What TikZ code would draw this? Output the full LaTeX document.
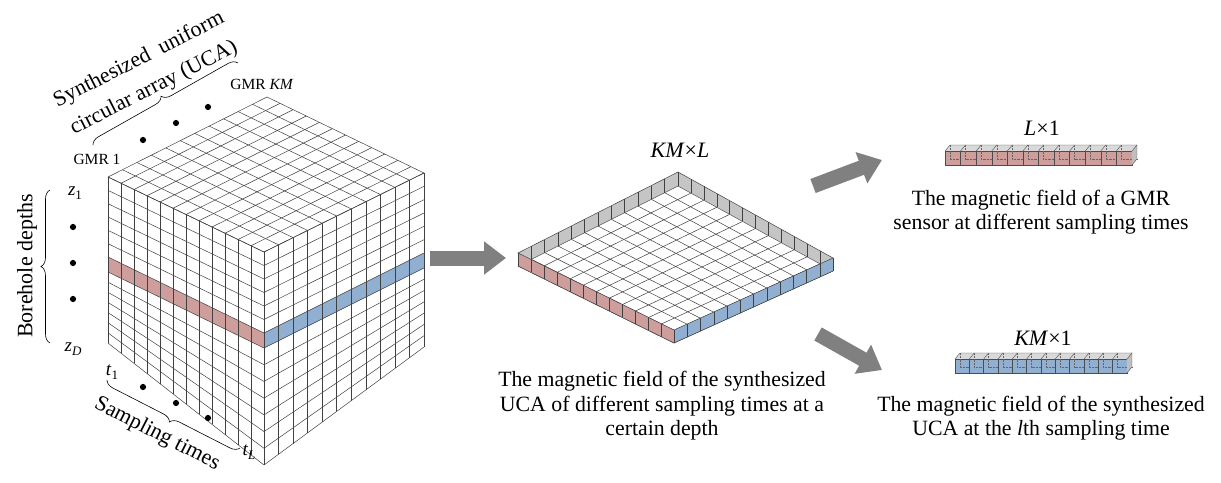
\documentclass[tikz,border=0pt]{standalone}
\usepackage{fontspec}
\setmainfont{LiberationSerif}[Extension=.ttf,UprightFont=*-Regular,ItalicFont=*-Italic,BoldFont=*-Bold,BoldItalicFont=*-BoldItalic]
\usetikzlibrary{calc,arrows.meta,decorations.pathreplacing}
\definecolor{rband}{RGB}{206,158,156}
\definecolor{bband}{RGB}{145,175,208}
\definecolor{garrow}{RGB}{128,128,128}
\newcommand\sbs[1]{\raisebox{-0.4ex}{\fontsize{13}{13}\selectfont #1}}
\begin{document}
\begin{tikzpicture}[x=1pt,y=-1pt,
  gl/.style={draw=black!75,line width=0.5pt},
  captxt/.style={font=\fontsize{21.8}{24.5}\selectfont,align=center},
  lab/.style={font=\fontsize{15.5}{18}\selectfont},
  side/.style={font=\fontsize{22}{26}\selectfont,align=center},
  dim/.style={font=\fontsize{22}{26}\selectfont},
  brc/.style={draw,line width=0.6pt,decoration={brace,amplitude=9pt},decorate},
  dot/.style={circle,fill,inner sep=2.2pt},
  bigarrow/.style={draw=garrow,line width=15pt,-{Triangle[length=22pt,width=32pt]}}]
\useasboundingbox (0,0) rectangle (1221,482);
% ---------- cube ----------
\coordinate (cL) at (108,177); \coordinate (cF) at (264,252);
\coordinate (cR) at (424,173); \coordinate (cB) at (267,97);
\coordinate (cLb) at (108,343); \coordinate (cFb) at (264,465);
\coordinate (cRb) at (424,347);
\coordinate (rL1) at (108,257); \coordinate (rF1) at (264,333);
\coordinate (rL2) at (108,272); \coordinate (rF2) at (264,348);
\coordinate (bR1) at (424,253); \coordinate (bR2) at (424,268);
\fill[white] (cL)--(cB)--(cR)--(cRb)--(cFb)--(cLb)--cycle;
\fill[rband] (rL1)--(rF1)--(rF2)--(rL2)--cycle;
\fill[bband] (rF1)--(bR1)--(bR2)--(rF2)--cycle;
\foreach \i in {0,...,12}{\draw[gl] ($(cL)!\i/12!(cF)$)--($(cLb)!\i/12!(cFb)$);}
\foreach \j in {0,...,6}{\draw[gl] ($(cL)!\j/6!(rL1)$)--($(cF)!\j/6!(rF1)$);}
\foreach \j in {0,...,7}{\draw[gl] ($(rL2)!\j/7!(cLb)$)--($(rF2)!\j/7!(cFb)$);}
\foreach \i in {0,...,11}{\draw[gl] ($(cF)!\i/11!(cR)$)--($(cFb)!\i/11!(cRb)$);}
\foreach \j in {0,...,6}{\draw[gl] ($(cF)!\j/6!(rF1)$)--($(cR)!\j/6!(bR1)$);}
\foreach \j in {0,...,7}{\draw[gl] ($(rF2)!\j/7!(cFb)$)--($(bR2)!\j/7!(cRb)$);}
\foreach \i in {0,...,11}{\draw[gl] ($(cL)!\i/11!(cB)$)--($(cF)!\i/11!(cR)$);}
\foreach \j in {0,...,12}{\draw[gl] ($(cL)!\j/12!(cF)$)--($(cB)!\j/12!(cR)$);}
% cube labels
\node[dot] (g1) at (143,140) {}; \node[dot] (g2) at (176,123) {}; \node[dot] (g3) at (208,107) {};
\node[dot] (z1d) at (73,227) {}; \node[dot] (z2d) at (73,263) {}; \node[dot] (z3d) at (73,299) {};
\node[dot] (t1d) at (143,387) {}; \node[dot] (t2d) at (176,403) {}; \node[dot] (t3d) at (208,418) {};
\node[lab] (gmr1) at (97,159) {GMR 1};
\node[lab] (gmrk) at (262,84) {GMR \textit{KM}};
\node[side,font=\fontsize{19}{22}\selectfont] (z1) at (75,193) {\textit{z}\sbs{1}};
\node[side,font=\fontsize{19}{22}\selectfont] (zD) at (73,349) {\textit{z}\sbs{\textit{D}}};
\node[side,font=\fontsize{19}{22}\selectfont] (t1) at (112,372) {\textit{t}\sbs{1}};
\node[side,font=\fontsize{19}{22}\selectfont] (tL) at (249,452) {\textit{t}\sbs{\textit{L}}};
\draw[brc] (50,343) -- (50,190);
\node[side,rotate=90] (bd) at (27,266) {Borehole depths};
\draw[brc] (93,145) -- (238,63);
\node[side,rotate=27] (uca1) at (139,60) {Synthesized~~uniform};
\node[side,rotate=27] (uca2) at (154,88) {circular array (UCA)};
\draw[brc] (240,448) -- (107,380);
\node[side,rotate=-27] (st) at (157,434) {Sampling times};
% ---------- arrows ----------
\coordinate (a1s) at (430,258); \coordinate (a1e) at (506,258);
\draw[bigarrow] (a1s) -- (a1e);
\coordinate (a2s) at (813,186); \coordinate (a2e) at (882,160);
\draw[bigarrow] (a2s) -- (a2e);
\coordinate (a3s) at (818,334); \coordinate (a3e) at (882,370);
\draw[bigarrow] (a3s) -- (a3e);
% ---------- slab ----------
\coordinate (sL) at (518,253); \coordinate (sB) at (678,172);
\coordinate (sR) at (833,258); \coordinate (sF) at (674,330);
\coordinate (sL2) at (518,266); \coordinate (sB2) at (678,186);
\coordinate (sR2) at (833,271); \coordinate (sF2) at (674,343);
\fill[white] (sL2)--(sB2)--(sR2)--(sF2)--cycle;
\foreach \i in {0,...,12}{\draw[gl] ($(sL2)!\i/12!(sB2)$)--($(sF2)!\i/12!(sR2)$);}
\foreach \j in {0,...,12}{\draw[gl] ($(sL2)!\j/12!(sF2)$)--($(sB2)!\j/12!(sR2)$);}
\fill[black!45,opacity=0.5] (sL)--(sB)--(sB2)--(sL2)--cycle;
\fill[black!45,opacity=0.5] (sB)--(sR)--(sR2)--(sB2)--cycle;
\fill[rband] (sL)--(sF)--(sF2)--(sL2)--cycle;
\fill[bband] (sF)--(sR)--(sR2)--(sF2)--cycle;
\foreach \i in {0,...,12}{
  \draw[gl] ($(sL)!\i/12!(sB)$)--($(sL2)!\i/12!(sB2)$);
  \draw[gl] ($(sB)!\i/12!(sR)$)--($(sB2)!\i/12!(sR2)$);
  \draw[gl] ($(sL)!\i/12!(sF)$)--($(sL2)!\i/12!(sF2)$);
  \draw[gl] ($(sF)!\i/12!(sR)$)--($(sF2)!\i/12!(sR2)$);}
\draw[gl] (sL)--(sB)--(sR)--(sF)--cycle;
\draw[gl] (sL2)--(sF2)--(sR2);
\node[dim] (kml) at (680,150) {\textit{KM}×\textit{L}};
\node[captxt] (cap2) at (662,406) {The magnetic field of the synthesized\\UCA of different sampling times at a\\certain depth};
% ---------- bars ----------
\foreach \bx/\by/\bw/\col [count=\k] in {945/151/15.58/rband, 955/359/14.33/bband}{
  \foreach \c in {0,...,11}{
    \pgfmathsetmacro\xa{\bx+\c*\bw}\pgfmathsetmacro\xb{\bx+(\c+1)*\bw}
    \fill[black!15] (\xa,\by)--(\xa+5,\by-6)--(\xb+5,\by-6)--(\xb,\by)--cycle;
    \draw[black!70,line width=0.4pt] (\xa,\by)--(\xa+5,\by-6)--(\xb+5,\by-6);
    \fill[\col] (\xa,\by) rectangle (\xb,\by+14);
    \draw[black!70,line width=0.4pt] (\xa,\by) rectangle (\xb,\by+14);
    \draw[black!60,densely dotted,line width=0.4pt] (\xa+5,\by-6)--(\xa+5,\by+8)--(\xb+5,\by+8);
  }
  \pgfmathsetmacro\xe{\bx+12*\bw}
  \fill[black!25] (\xe,\by)--(\xe+5,\by-6)--(\xe+5,\by+8)--(\xe,\by+14)--cycle;
  \draw[black!70,line width=0.4pt] (\xe,\by)--(\xe+5,\by-6)--(\xe+5,\by+8)--(\xe,\by+14);
}
\node[dim] (l1) at (1042,128) {\textit{L}×1};
\node[dim] (km1) at (1043,338) {\textit{KM}×1};
\node[captxt] (cap3) at (1041,212) {The magnetic field of a GMR\\sensor at different sampling times};
\node[captxt] (cap4) at (1041,418) {The magnetic field of the synthesized\\UCA at the \textit{l}th sampling time};
\end{tikzpicture}
\end{document}
